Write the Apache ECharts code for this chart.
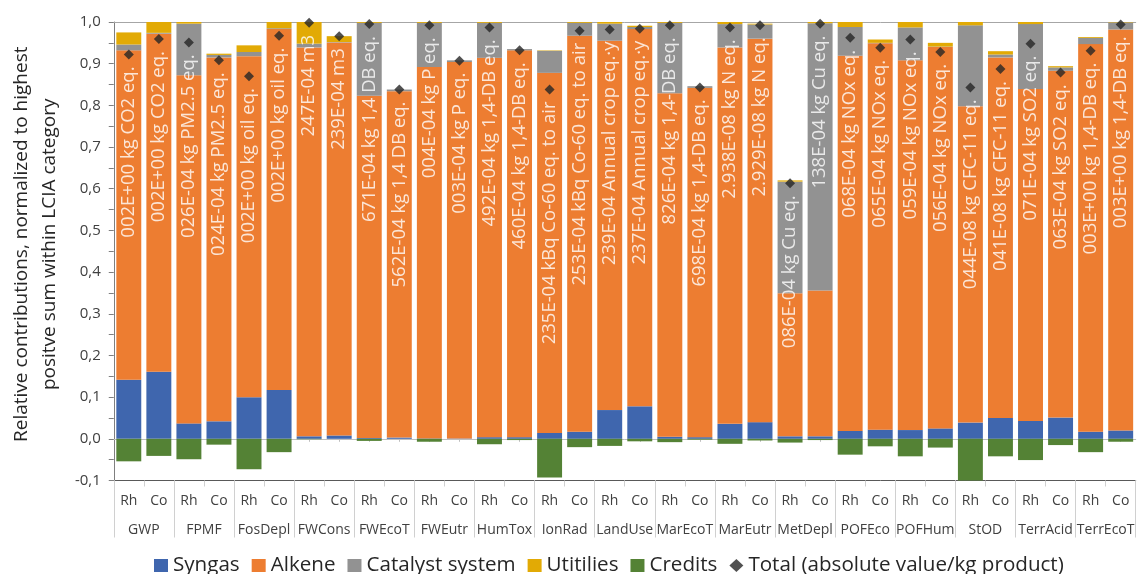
<!DOCTYPE html>
<html>
<head>
<meta charset="utf-8">
<script src="https://cdn.jsdelivr.net/npm/echarts@6/dist/echarts.min.js"></script>
<style>
  html, body { margin: 0; padding: 0; background: #ffffff; }
  #chart { width: 1137px; height: 574px; }
</style>
</head>
<body>
<div id="chart"></div>
<script>
// Impact categories and the two catalyst routes within each
const groups = ['GWP', 'FPMF', 'FosDepl', 'FWCons', 'FWEcoT', 'FWEutr', 'HumTox', 'IonRad', 'LandUse',
  'MarEcoT', 'MarEutr', 'MetDepl', 'POFEco', 'POFHum', 'StOD', 'TerrAcid', 'TerrEcoT'];
const routes = ['Rh', 'Co'];

// Relative contributions per bar (Rh, Co for each category, in order)
const syngas = [0.142, 0.161, 0.037, 0.042, 0.100, 0.117, 0.006, 0.008, 0.002, 0.003, 0.001, 0.001,
  0.004, 0.004, 0.014, 0.017, 0.069, 0.078, 0.005, 0.004, 0.036, 0.040, 0.006, 0.006,
  0.019, 0.022, 0.021, 0.025, 0.039, 0.050, 0.043, 0.051, 0.017, 0.020];
const alkene = [0.790, 0.811, 0.835, 0.873, 0.818, 0.866, 0.933, 0.943, 0.821, 0.831, 0.891, 0.903,
  0.910, 0.928, 0.864, 0.950, 0.886, 0.905, 0.824, 0.838, 0.903, 0.920, 0.343, 0.350,
  0.900, 0.927, 0.887, 0.915, 0.759, 0.865, 0.796, 0.832, 0.930, 0.962];
const catalyst = [0.014, 0.002, 0.124, 0.006, 0.010, 0.002, 0.009, 0.001, 0.175, 0.004, 0.106, 0.004,
  0.084, 0.003, 0.053, 0.031, 0.041, 0.005, 0.169, 0.004, 0.056, 0.034, 0.268, 0.641,
  0.069, 0.001, 0.079, 0.001, 0.194, 0.007, 0.156, 0.008, 0.015, 0.017];
const utilities = [0.029, 0.026, 0.004, 0.003, 0.016, 0.015, 0.052, 0.014, 0.002, 0.000, 0.002, 0.000,
  0.002, 0.000, 0.001, 0.002, 0.004, 0.003, 0.002, 0.000, 0.005, 0.002, 0.003, 0.003,
  0.012, 0.008, 0.013, 0.009, 0.008, 0.008, 0.005, 0.003, 0.002, 0.001];
const credits = [-0.054, -0.041, -0.049, -0.014, -0.073, -0.032, -0.001, 0.000, -0.005, 0.000, -0.007, 0.000,
  -0.013, -0.003, -0.093, -0.020, -0.017, -0.006, -0.008, -0.002, -0.012, -0.004, -0.009, -0.003,
  -0.038, -0.018, -0.042, -0.021, -0.157, -0.042, -0.051, -0.015, -0.032, -0.007];
const total = [0.922, 0.959, 0.951, 0.908, 0.870, 0.967, 0.998, 0.966, 0.995, 0.838, 0.992, 0.907,
  0.987, 0.932, 0.838, 0.979, 0.982, 0.984, 0.992, 0.843, 0.987, 0.992, 0.613, 0.996,
  0.962, 0.938, 0.958, 0.928, 0.843, 0.887, 0.948, 0.879, 0.931, 0.994];

// Absolute totals written along each bar
const totalLabels = [
  '002E+00 kg CO2 eq.', '002E+00 kg CO2 eq.',
  '026E-04 kg PM2.5 eq.', '024E-04 kg PM2.5 eq.',
  '002E+00 kg oil eq.', '002E+00 kg oil eq.',
  '247E-04 m3', '239E-04 m3',
  '671E-04 kg 1,4 DB eq.', '562E-04 kg 1,4 DB eq.',
  '004E-04 kg P eq.', '003E-04 kg P eq.',
  '492E-04 kg 1,4-DB eq.', '460E-04 kg 1,4-DB eq.',
  '235E-04 kBq Co-60 eq. to air', '253E-04 kBq Co-60 eq. to air',
  '239E-04 Annual crop eq.·y', '237E-04 Annual crop eq.·y',
  '826E-04 kg 1,4-DB eq.', '698E-04 kg 1,4-DB eq.',
  '2.938E-08 kg N eq.', '2.929E-08 kg N eq.',
  '086E-04 kg Cu eq.', '138E-04 kg Cu eq.',
  '068E-04 kg NOx eq.', '065E-04 kg NOx eq.',
  '059E-04 kg NOx eq.', '056E-04 kg NOx eq.',
  '044E-08 kg CFC-11 eq.', '041E-08 kg CFC-11 eq.',
  '071E-04 kg SO2 eq.', '063E-04 kg SO2 eq.',
  '003E+00 kg 1,4-DB eq.', '003E+00 kg 1,4-DB eq.'
];

const yTicks = { min: -0.1, max: 1.0, step: 0.1 };

const bars = [];
groups.forEach(() => routes.forEach(r => bars.push(r)));

const FONT = 'Open Sans';
const chart = echarts.init(document.getElementById('chart'), null, { renderer: 'canvas' });

const stackBar = (name, data, color) => ({
  name, type: 'bar', stack: 'lcia', data,
  xAxisIndex: 0, yAxisIndex: 0,
  barCategoryGap: '17%',
  itemStyle: { color },
  emphasis: { disabled: true },
  clip: true
});

chart.setOption({
  animation: false,
  textStyle: { fontFamily: FONT },
  grid: { left: 101, top: 22, width: 1038, height: 458.5, containLabel: false },
  legend: {
    left: 149, top: 550,
    itemWidth: 14, itemHeight: 13, itemGap: 12,
    textStyle: { fontSize: 20.6, color: '#262626', fontFamily: FONT },
    data: [
      { name: 'Syngas', icon: 'rect' },
      { name: 'Alkene', icon: 'rect' },
      { name: 'Catalyst system', icon: 'rect' },
      { name: 'Utitilies', icon: 'rect' },
      { name: 'Credits', icon: 'rect' },
      { name: 'Total (absolute value/kg product)', icon: 'diamond' }
    ]
  },
  xAxis: [
    {
      type: 'category', data: bars, position: 'bottom',
      axisLine: { onZero: false, lineStyle: { color: '#595959', width: 1 } },
      axisTick: { show: true, interval: 0, length: 6, lineStyle: { color: '#d0d0d0' } },
      axisLabel: { interval: 0, margin: 14, fontSize: 14, color: '#404040' }
    },
    {
      type: 'category', data: groups, position: 'bottom',
      axisLine: { show: false, onZero: false },
      axisTick: { show: true, interval: 0, length: 57, lineStyle: { color: '#d0d0d0' } },
      axisLabel: { interval: 0, margin: 43, fontSize: 14, color: '#404040' }
    },
    {
      type: 'category', data: bars, position: 'bottom',
      axisLine: { onZero: true, onZeroAxisIndex: 0, lineStyle: { color: '#bfbfbf', width: 1 } },
      axisTick: { show: true, alignWithLabel: true, interval: 0, length: 3, lineStyle: { color: '#bfbfbf' } },
      axisLabel: { show: false }
    },
    {
      type: 'category', data: bars, position: 'top',
      axisLine: { onZero: false, lineStyle: { color: '#a6a6a6', width: 1 } },
      axisTick: { show: false },
      axisLabel: { show: false }
    }
  ],
  yAxis: {
    type: 'value', min: yTicks.min, max: yTicks.max, interval: yTicks.step,
    name: 'Relative contributions, normalized to highest\npositve sum within LCIA category',
    nameLocation: 'middle', nameGap: 37,
    nameTextStyle: { fontSize: 19, lineHeight: 28, color: '#262626', padding: [0, 0, 0, 14] },
    axisLine: { show: true, lineStyle: { color: '#7f7f7f', width: 1 } },
    axisTick: { show: true, length: 5, lineStyle: { color: '#7f7f7f' } },
    minorTick: { show: true, splitNumber: 2, length: 5, lineStyle: { color: '#7f7f7f' } },
    splitLine: { show: false },
    axisLabel: {
      margin: 13, fontSize: 15, color: '#404040',
      formatter: v => v.toFixed(1).replace('.', ',')
    }
  },
  series: [
    stackBar('Syngas', syngas, '#3F66AE'),
    stackBar('Alkene', alkene, '#ED7D31'),
    stackBar('Catalyst system', catalyst, '#929292'),
    stackBar('Utitilies', utilities, '#E2AA05'),
    stackBar('Credits', credits, '#548235'),
    {
      name: 'Total (absolute value/kg product)', type: 'scatter',
      xAxisIndex: 0, yAxisIndex: 0,
      data: total, symbol: 'diamond', symbolSize: 10,
      itemStyle: { color: '#262626' },
      emphasis: { disabled: true },
      z: 5,
      label: {
        show: true, rotate: 90, position: [5, 17],
        align: 'right', verticalAlign: 'middle',
        color: '#ffffff', fontSize: 18.5, fontFamily: FONT,
        formatter: p => totalLabels[p.dataIndex]
      }
    }
  ]
});
</script>
</body>
</html>
